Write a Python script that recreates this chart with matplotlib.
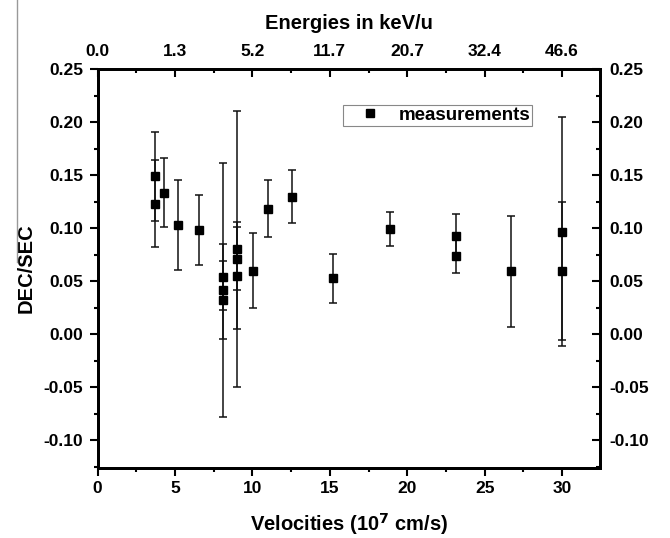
import matplotlib
matplotlib.use("Agg")
import matplotlib.pyplot as plt
from matplotlib.lines import Line2D
from matplotlib.ticker import MultipleLocator, FixedLocator

plt.rcParams['font.family'] = ['Liberation Sans', 'DejaVu Sans']
plt.rcParams['font.weight'] = 'bold'

# Data (velocities in 1e7 cm/s, DEC/SEC ratio, symmetric errors)
velocity = [3.70, 3.70, 4.26, 5.19, 6.52, 8.09, 8.09, 8.09, 8.98, 8.98, 8.98,
            10.05, 11.02, 12.57, 15.22, 18.88, 23.13, 23.13, 26.70, 30.0, 30.0]
ratio = [0.149, 0.123, 0.1335, 0.103, 0.0983, 0.0538, 0.0416, 0.0322, 0.0802,
         0.0714, 0.0551, 0.0601, 0.1184, 0.1297, 0.0529, 0.099, 0.0927, 0.0742,
         0.0592, 0.0968, 0.0598]
error = [0.042, 0.041, 0.0327, 0.042, 0.033, 0.031, 0.120, 0.037, 0.130, 0.0296,
         0.0505, 0.0354, 0.027, 0.025, 0.023, 0.016, 0.0207, 0.0166, 0.052,
         0.108, 0.065]

vel_ticks = [0, 5, 10, 15, 20, 25, 30]
energy_labels = ['0.0', '1.3', '5.2', '11.7', '20.7', '32.4', '46.6']
y_ticks = [-0.10, -0.05, 0.00, 0.05, 0.10, 0.15, 0.20, 0.25]

fig = plt.figure(figsize=(6.70, 5.38), dpi=100)
ax = fig.add_axes([0.1458, 0.1301, 0.8955 - 0.1458, 0.8717 - 0.1301])

ax.errorbar(velocity, ratio, yerr=error, fmt='none', ecolor='#111111',
            elinewidth=1.1, capsize=2.9, capthick=1.1, zorder=2)
ax.plot(velocity, ratio, 's', color='black', markersize=6.3,
        label='measurements', zorder=3)

ax.set_xlim(0, 32.45)
ax.set_ylim(-0.126, 0.25)

ax.xaxis.set_major_locator(FixedLocator(vel_ticks))
ax.xaxis.set_minor_locator(MultipleLocator(2.5))
ax.yaxis.set_major_locator(FixedLocator(y_ticks))
ax.yaxis.set_minor_locator(MultipleLocator(0.025))
ax.set_yticklabels([f'{v:.2f}' for v in y_ticks])

for s in ax.spines.values():
    s.set_linewidth(1.9)

ax.tick_params(axis='both', which='major', direction='out', length=5.5,
               width=1.5, labelsize=12.5)
ax.tick_params(axis='both', which='minor', direction='out', length=3,
               width=1.5)
ax.tick_params(axis='x', which='major', pad=4)
ax.tick_params(axis='y', which='major', pad=5)

# right axis
axr = ax.twinx()
axr.set_ylim(ax.get_ylim())
axr.yaxis.set_major_locator(FixedLocator(y_ticks))
axr.yaxis.set_minor_locator(MultipleLocator(0.025))
axr.set_yticklabels([f'{v:.2f}' for v in y_ticks])
axr.tick_params(axis='y', which='major', direction='in', length=5.5,
                width=1.5, labelsize=12.5, pad=7)
axr.tick_params(axis='y', which='minor', direction='in', length=3, width=1.5)
for s in axr.spines.values():
    s.set_linewidth(1.9)

# top axis (energies)
axt = ax.twiny()
axt.set_xlim(ax.get_xlim())
axt.xaxis.set_major_locator(FixedLocator(vel_ticks))
axt.xaxis.set_minor_locator(MultipleLocator(2.5))
axt.set_xticklabels(energy_labels)
axt.tick_params(axis='x', which='major', direction='in', length=5.5,
                width=1.5, labelsize=12.5, pad=7)
axt.tick_params(axis='x', which='minor', direction='in', length=3, width=1.5)
for s in axt.spines.values():
    s.set_linewidth(1.9)
axt.set_xlabel('Energies in keV/u', fontsize=14.5, fontweight='bold', labelpad=11)

ax.set_xlabel(r'Velocities (10$^{\mathbf{7}}$ cm/s)', fontsize=14.5,
              fontweight='bold', labelpad=10.5)
ax.set_ylabel('DEC/SEC', fontsize=14.5, fontweight='bold', labelpad=6)

leg = ax.legend(loc='upper left', bbox_to_anchor=(0.4884, 0.9098),
                borderaxespad=0, frameon=True, fancybox=False,
                edgecolor='#888888', framealpha=1,
                prop={'size': 13.5, 'weight': 'bold'},
                handlelength=2.72, handletextpad=0.13, borderpad=0.1)
leg.get_frame().set_linewidth(0.8)

# grey crop line at the top-left of the reference image
fig.add_artist(Line2D([17 / 670, 17 / 670], [1.0, 1 - 262 / 538],
                      transform=fig.transFigure, color='#999999', linewidth=1.0))

fig.savefig('out.png', dpi=100)
